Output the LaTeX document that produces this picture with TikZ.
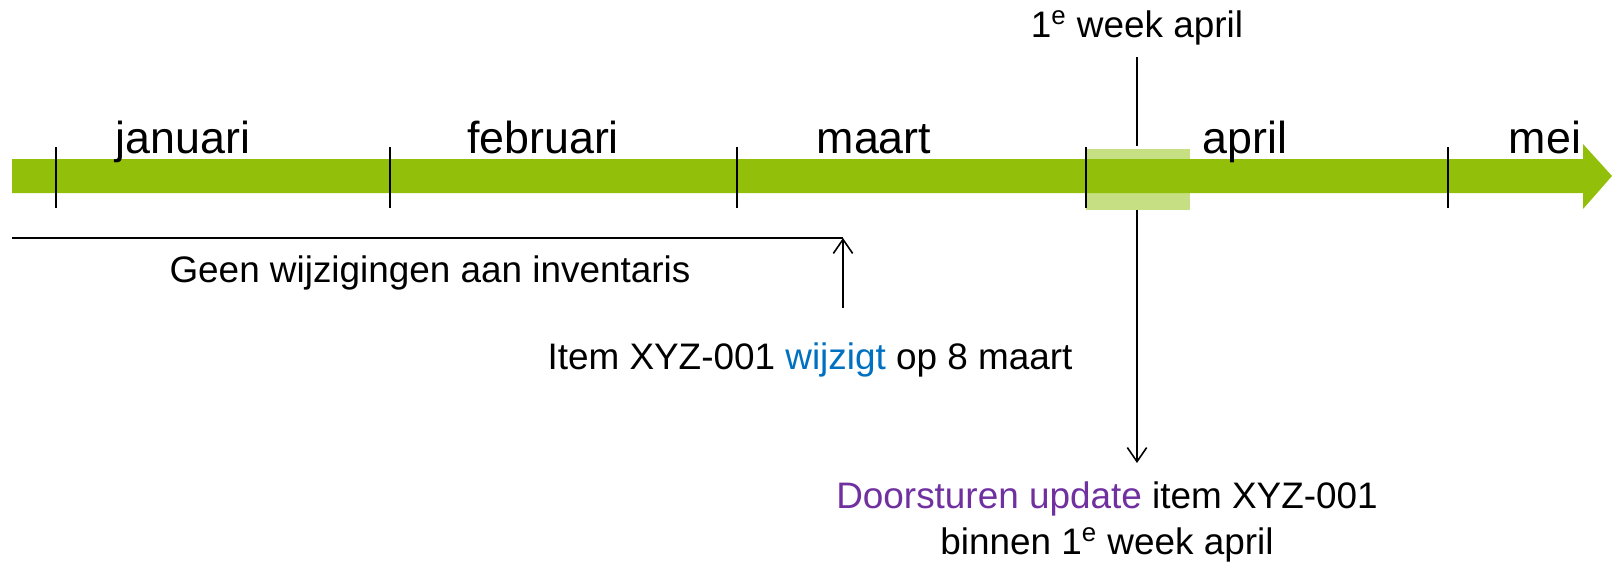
\documentclass[tikz,border=0pt]{standalone}
\usepackage{fontspec}
\setmainfont{Liberation Sans}
\usetikzlibrary{arrows.meta}
\definecolor{balkgroen}{RGB}{146,192,10}
\definecolor{lichtgroen}{RGB}{198,223,130}
\definecolor{wijzigblauw}{RGB}{0,112,192}
\definecolor{updatepaars}{RGB}{112,48,160}
\tikzset{
  maand/.style={font=\fontsize{25.5}{30}\selectfont, inner sep=0pt, anchor=base},
  uitleg/.style={font=\fontsize{21}{26}\selectfont, inner sep=0pt, align=center},
  streep/.style={line width=0.9pt},
  pijl/.style={line width=0.9pt, -{Straight Barb[length=8pt,width=11pt]}}
}
\begin{document}
\begin{tikzpicture}[x=0.02cm,y=-0.02cm]
    \useasboundingbox (0,0) rectangle (1612,561);

    % week box
    \fill[lichtgroen] (1086,149) rectangle (1190,210);

    % time bar
    \fill[balkgroen] (12,159) -- (1583,159) -- (1583,144) -- (1612,176)
        -- (1583,209) -- (1583,193) -- (12,193) -- cycle;

    % ticks
    \draw[streep] (56,147) -- (56,208);
    \draw[streep] (390,147) -- (390,208);
    \draw[streep] (737,147) -- (737,208);
    \draw[streep] (1086,147) -- (1086,208);
    \draw[streep] (1448,147) -- (1448,208);

    % months
    \node[maand] (jan) at (183,153) {januari};
    \node[maand] (feb) at (543,153) {februari};
    \node[maand] (mrt) at (874,153) {maart};
    \node[maand] (apr) at (1245,153) {april};
    \node[maand] (mei) at (1545,153) {mei};

    % first week of april
    \node[uitleg] (week) at (1137,28) {1\textsuperscript{e} week april};
    \coordinate (weekboven) at (1137,57);
    \coordinate (weekbalk) at (1137,146);
    \coordinate (weekonder) at (1137,210);
    \draw[streep] (weekboven) -- (weekbalk);

    % no changes
    \coordinate (geenbegin) at (12,238);
    \coordinate (geeneind) at (843,238);
    \coordinate (wijzigvoet) at (843,308);
    \draw[streep] (geenbegin) -- (geeneind);
    \draw[pijl] (wijzigvoet) -- (geeneind);
    \node[uitleg] (geen) at (430,273) {Geen wijzigingen aan inventaris};

    \node[uitleg] (wijzig) at (810,360)
        {Item XYZ-001 \textcolor{wijzigblauw}{wijzigt} op 8 maart};

    % forwarding
    \node[uitleg] (door) at (1107,522)
        {\textcolor{updatepaars}{Doorsturen update} item XYZ-001\\binnen 1\textsuperscript{e} week april};
    \coordinate (doortop) at (1137,463);
    \draw[pijl] (weekonder) -- (doortop);
\end{tikzpicture}
\end{document}
